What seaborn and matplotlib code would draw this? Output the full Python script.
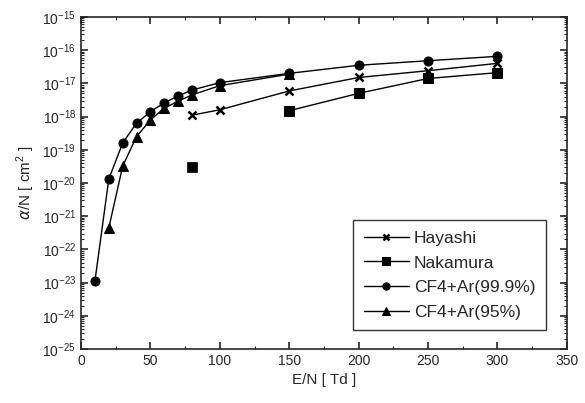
import numpy as np
import pandas as pd
import seaborn as sns
import matplotlib
matplotlib.use('Agg')
import matplotlib.pyplot as plt
from matplotlib.ticker import LogLocator, MultipleLocator, FixedLocator

# data
hayashi_x = [80, 100, 150, 200, 250, 300]
hayashi_y = [1.1e-18, 1.6e-18, 5.9e-18, 1.5e-17, 2.4e-17, 4.0e-17]

nakamura_x = [80, 150, 200, 250, 300]
nakamura_y = [3.1e-20, 1.5e-18, 5.0e-18, 1.4e-17, 2.1e-17]

cf4_999_x = [10, 20, 30, 40, 50, 60, 70, 80, 100, 150, 200, 250, 300]
cf4_999_y = [1.1e-23, 1.3e-20, 1.6e-19, 6.3e-19, 1.4e-18, 2.6e-18, 4.2e-18,
             6.3e-18, 1.05e-17, 2.0e-17, 3.5e-17, 4.8e-17, 6.5e-17]

cf4_95_x = [20, 30, 40, 50, 60, 70, 80, 100, 150]
cf4_95_y = [4.4e-22, 3.2e-20, 2.5e-19, 7.9e-19, 1.8e-18, 2.9e-18,
            4.5e-18, 8.5e-18, 1.9e-17]

sns.set_style('ticks')
plt.rcParams['font.family'] = ['Liberation Sans', 'DejaVu Sans']
plt.rcParams['mathtext.fontset'] = 'custom'
plt.rcParams['mathtext.rm'] = 'Liberation Sans'

fig = plt.figure(figsize=(5.85, 4.03), dpi=100)
ax = fig.add_axes([0.1385, 0.134, 0.8305, 0.824])

kw = dict(color='black', linewidth=1, markersize=6.5, markeredgecolor='black')
sns.lineplot(x=hayashi_x, y=hayashi_y, marker='x', label='Hayashi', ax=ax,
             markeredgewidth=1.8, color='black', linewidth=1, markersize=6,
             markeredgecolor='black')
# first Nakamura point stands alone, line starts at 150 Td
sns.lineplot(x=nakamura_x[1:], y=nakamura_y[1:], marker='s', label='Nakamura', ax=ax, **kw)
sns.scatterplot(x=nakamura_x[:1], y=nakamura_y[:1], marker='s', color='black',
                edgecolor='black', s=42, ax=ax)
sns.lineplot(x=cf4_999_x, y=cf4_999_y, marker='o', label='CF4+Ar(99.9%)', ax=ax, **kw)
sns.lineplot(x=cf4_95_x, y=cf4_95_y, marker='^', label='CF4+Ar(95%)', ax=ax, **kw)

ax.set_yscale('log')
ax.set_xlim(0, 350)
ax.set_ylim(1e-25, 1e-15)
ax.xaxis.set_major_locator(MultipleLocator(50))
ax.xaxis.set_minor_locator(MultipleLocator(25))
ax.yaxis.set_major_locator(FixedLocator([10.0 ** e for e in range(-25, -14)]))
ax.yaxis.set_minor_locator(LogLocator(base=10, subs=np.arange(2, 10), numticks=20))
ax.set_yticklabels([r'$10^{%d}$' % e for e in range(-25, -14)])

ax.tick_params(which='both', direction='in', top=True, right=True, labelsize=10)
ax.tick_params(which='major', length=5, width=1.2)
ax.tick_params(which='minor', length=2.5, width=0.8)
for s in ax.spines.values():
    s.set_linewidth(1.2)

ax.set_xlabel('E/N [ Td ]', fontsize=11)
ax.set_ylabel(r'$\alpha$/N [ cm$^2$ ]', fontsize=11)

leg = ax.legend(loc='lower right', bbox_to_anchor=(0.975, 0.03), fontsize=12.5,
                frameon=True, fancybox=False, edgecolor='black', handlelength=2.6,
                handletextpad=0.3, borderpad=0.6, labelspacing=0.55, markerscale=0.8)
leg.get_frame().set_linewidth(1)

fig.savefig('out.png', dpi=100)
